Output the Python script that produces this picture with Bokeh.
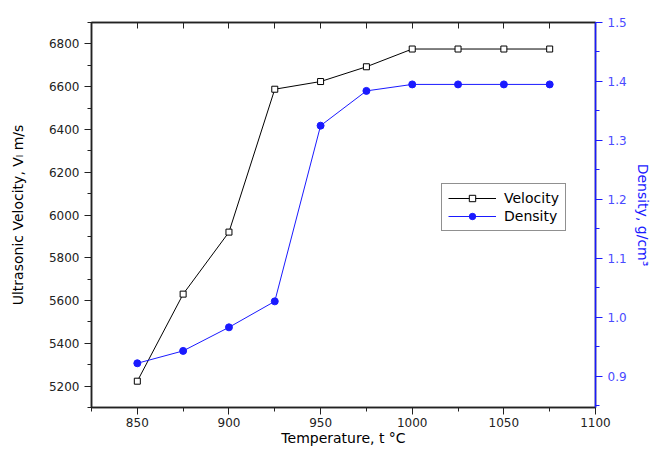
from bokeh.plotting import figure
from bokeh.models import (Range1d, LinearAxis, SingleIntervalTicker, Legend, LegendItem,
                          ColumnDataSource, PrintfTickFormatter)
from bokeh.embed import file_html
from bokeh.resources import INLINE

temperature = [850, 875, 900, 925, 950, 975, 1000, 1025, 1050, 1075]
velocity = [5223, 5630, 5920, 6588, 6624, 6693, 6776, 6776, 6776, 6776]
density = [0.922, 0.943, 0.983, 1.027, 1.325, 1.384, 1.395, 1.395, 1.395, 1.395]

FONT = "DejaVu Sans"
BLUE = "#1a1aff"

src = ColumnDataSource(dict(t=temperature, v=velocity, d=density))

p = figure(width=653, height=450, output_backend="svg", toolbar_location=None,
           x_range=Range1d(825, 1100), y_range=Range1d(5100, 6900),
           min_border_left=91, min_border_right=55, min_border_top=22, min_border_bottom=43)
p.extra_y_ranges = {"dens": Range1d(0.847, 1.5)}
p.xgrid.visible = False
p.ygrid.visible = False
p.outline_line_color = "#222222"
p.outline_line_width = 1.5
p.background_fill_color = "white"
p.border_fill_color = "white"

# bottom axis
xa = p.xaxis[0]
xa.ticker = SingleIntervalTicker(interval=50, num_minor_ticks=2)
xa.axis_label = "Temperature, t \u00b0C"
# left axis
ya = p.yaxis[0]
ya.ticker = SingleIntervalTicker(interval=200, num_minor_ticks=2)
ya.axis_label = "Ultrasonic Velocity, V\u2097 m/s"
for ax in (xa, ya):
    ax.axis_line_color = "#222222"
    ax.axis_line_width = 1.5
    ax.major_tick_line_color = "#222222"
    ax.minor_tick_line_color = "#222222"
    ax.major_tick_out = 7
    ax.major_tick_in = 0
    ax.minor_tick_out = 4
    ax.minor_tick_in = 0
    ax.major_label_text_font = FONT
    ax.major_label_text_font_size = "12px"
    ax.major_label_text_color = "#222222"
    ax.axis_label_text_font = FONT
    ax.axis_label_text_font_size = "14px"
    ax.axis_label_text_font_style = "normal"
    ax.axis_label_text_color = "black"
ya.axis_label_standoff = 20
xa.axis_label_standoff = 0
xa.major_label_standoff = 3

# right axis
ra = LinearAxis(y_range_name="dens", ticker=SingleIntervalTicker(interval=0.1, num_minor_ticks=2),
                formatter=PrintfTickFormatter(format="%.1f"))
ra.axis_label = "Density, g/cm\u00b3"
ra.axis_line_color = BLUE
ra.axis_line_width = 1.5
ra.major_tick_line_color = BLUE
ra.minor_tick_line_color = BLUE
ra.major_tick_out = 7
ra.major_tick_in = 0
ra.minor_tick_out = 4
ra.minor_tick_in = 0
ra.major_label_text_font = FONT
ra.major_label_text_font_size = "12px"
ra.major_label_text_color = "#4a4aff"
ra.axis_label_text_font = FONT
ra.axis_label_text_font_size = "14px"
ra.axis_label_text_font_style = "normal"
ra.axis_label_text_color = BLUE
ra.axis_label_standoff = 5
p.add_layout(ra, "right")

# top axis (ticks only)
ta = LinearAxis(ticker=SingleIntervalTicker(interval=25, num_minor_ticks=0))
ta.axis_line_color = "#222222"
ta.axis_line_width = 1.5
ta.major_tick_line_color = "#222222"
ta.major_tick_in = 6
ta.major_tick_out = 0
ta.minor_tick_line_color = None
ta.major_label_text_font_size = "0px"
ta.major_label_text_color = None
p.add_layout(ta, "above")

vl = p.line("t", "v", source=src, line_color="black", line_width=1)
vs = p.scatter("t", "v", source=src, marker="square", size=6, line_color="black",
               fill_color="white", line_width=1)
dl = p.line("t", "d", source=src, y_range_name="dens", line_color=BLUE, line_width=1)
ds = p.scatter("t", "d", source=src, y_range_name="dens", marker="circle", size=7,
               line_color=BLUE, fill_color=BLUE)

legend = Legend(items=[LegendItem(label="Velocity", renderers=[vl, vs]),
                       LegendItem(label="Density", renderers=[dl, ds])],
                location=(350, 176))
legend.label_text_font = FONT
legend.label_text_font_size = "14px"
legend.label_text_color = "black"
legend.glyph_width = 48
legend.glyph_height = 16
legend.padding = 6
legend.spacing = 2
legend.label_standoff = 8
legend.margin = 0
legend.border_line_color = "#222222"
legend.border_line_width = 1.5
legend.background_fill_alpha = 1
p.add_layout(legend, "center")

open("out.html", "w").write(file_html(p, INLINE))
